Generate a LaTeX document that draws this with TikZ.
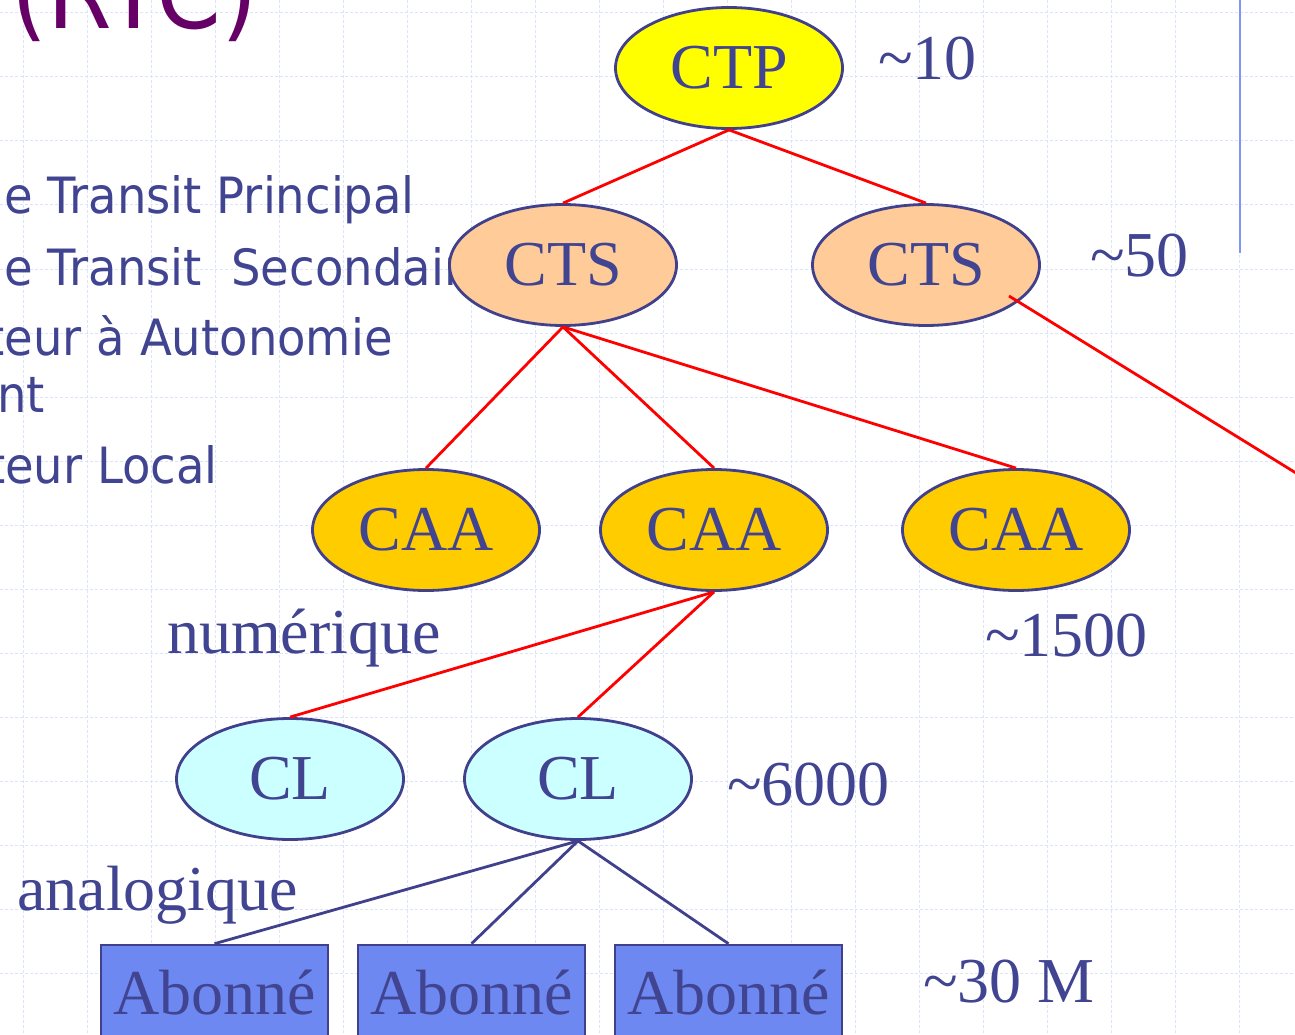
\documentclass[tikz,border=0pt]{standalone}
\usepackage{fontspec}
\setmainfont{Liberation Serif}
\newfontfamily\slidesans{DejaVu Sans}
\usetikzlibrary{shapes.geometric}
\definecolor{ink}{RGB}{64,68,145}
\definecolor{edgec}{RGB}{64,64,140}
\definecolor{gridc}{RGB}{220,228,252}
\definecolor{ctpfill}{RGB}{255,255,0}
\definecolor{ctsfill}{RGB}{255,204,153}
\definecolor{caafill}{RGB}{255,204,0}
\definecolor{clfill}{RGB}{204,255,255}
\definecolor{abfill}{RGB}{110,136,242}
\definecolor{titlec}{RGB}{102,0,102}
\definecolor{barc}{RGB}{125,150,240}
\begin{document}
\begin{tikzpicture}[x=1pt,y=-1pt,
  bignode/.style={ellipse, draw=edgec, line width=2.8pt, minimum width=227pt, minimum height=121pt, inner sep=0pt, text=ink, font=\fontsize{64}{70}\selectfont},
  abbox/.style={rectangle, draw=edgec, fill=abfill, line width=2.6pt, minimum width=227pt, minimum height=96pt, inner sep=0pt, text=ink, font=\fontsize{64}{70}\selectfont},
  lbl/.style={anchor=base west, inner sep=0pt, text=ink, font=\fontsize{64}{70}\selectfont},
  sanstxt/.style={anchor=base east, inner sep=0pt, text=ink, font=\slidesans\fontsize{50}{56}\selectfont},
  redline/.style={red, line width=2.8pt},
  blueline/.style={edgec, line width=2.8pt},
  gridline/.style={gridc, line width=1pt, dash pattern=on 3pt off 2pt}]
\useasboundingbox (0,0) rectangle (1295,1035);
\clip (0,0) rectangle (1295,1035);
\fill[white] (0,0) rectangle (1295,1035);
% background grid
\foreach \i in {0,...,19} \draw[gridline] ({23+64*\i},0) -- ({23+64*\i},1035);
\foreach \j in {0,...,16} \draw[gridline] (0,{13+64*\j}) -- (1295,{13+64*\j});
% vertical bar
\draw[barc, line width=2.6pt] (1240,0) -- (1240,253);
% title and left text
\node[anchor=base east, inner sep=0pt, text=titlec, font=\slidesans\fontsize{100}{110}\selectfont] (title) at (258,29) {\scalebox{0.93}[1]{(RTC)}};
\node[sanstxt] (t1) at (415,213) {\scalebox{0.93}[1]{e Transit Principal}};
\node[sanstxt, anchor=base west] (t2) at ([yshift=-72pt]t1.base west) {\scalebox{0.93}[1]{e Transit\ \ Secondaire}};
\node[sanstxt] (t3) at (393,355) {\scalebox{0.93}[1]{teur à Autonomie}};
\node[sanstxt] (t4) at (45,412) {\scalebox{0.93}[1]{nt}};
\node[sanstxt] (t5) at (218,483) {\scalebox{0.93}[1]{teur Local}};
% nodes
\node[bignode, fill=ctpfill] (ctp) at (729,68) {CTP};
\node[bignode, fill=ctsfill] (cts1) at (563,265) {CTS};
\node[bignode, fill=ctsfill] (cts2) at (926,265) {CTS};
\node[bignode, fill=caafill] (caa1) at (426,530) {CAA};
\node[bignode, fill=caafill] (caa2) at (714,530) {CAA};
\node[bignode, fill=caafill] (caa3) at (1016,530) {CAA};
\node[bignode, fill=clfill] (cl1) at (290,779) {CL};
\node[bignode, fill=clfill] (cl2) at (578,779) {CL};
\node[abbox] (ab1) at (214.5,993) {Abonné};
\node[abbox] (ab2) at (471.5,993) {Abonné};
\node[abbox] (ab3) at (728.5,993) {Abonné};
% connectors
\draw[redline] (ctp.south) -- (cts1.north);
\draw[redline] (ctp.south) -- (cts2.north);
\draw[redline] (cts1.south) -- (caa1.north);
\draw[redline] (cts1.south) -- (caa2.north);
\draw[redline] (cts1.south) -- (caa3.north);
\coordinate (ctsout) at (1330,494);
\draw[redline] ([xshift=83pt,yshift=-31pt]cts2.center) -- (ctsout);
\draw[redline] (caa2.south) -- (cl1.north);
\draw[redline] (caa2.south) -- (cl2.north);
\draw[blueline] (cl2.south) -- (ab1.north);
\draw[blueline] (cl2.south) -- (ab2.north);
\draw[blueline] (cl2.south) -- (ab3.north);
% labels
\node[lbl] (n10) at (878,80) {\textasciitilde 10};
\node[lbl] (n50) at (1090,276) {\textasciitilde 50};
\node[lbl] (n1500) at (985,656) {\textasciitilde 1500};
\node[lbl] (n6000) at (727,805) {\textasciitilde 6000};
\node[lbl] (n30m) at (923,1002) {\textasciitilde 30 M};
\node[lbl] (num) at (167,653) {numérique};
\node[lbl] (ana) at (17,910) {analogique};
\end{tikzpicture}
\end{document}
